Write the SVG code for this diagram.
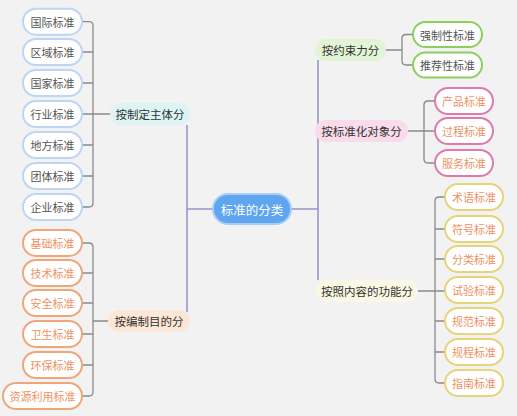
<svg xmlns="http://www.w3.org/2000/svg" width="517" height="416" viewBox="0 0 517 416">
<style>
text{font-family:"Noto Sans CJK SC","Noto Sans",sans-serif;dominant-baseline:central;text-anchor:middle}
.c{font-size:11px;fill:#555}
.o{font-size:11px;fill:#ee9263}
.b{font-size:11.5px;fill:#333}
.br{fill:none;stroke:#8a8a8a;stroke-width:1.3}
.tr{fill:none;stroke:#9896c6;stroke-width:1.6}
.nb{fill:#fff;stroke:#bcd6f3;stroke-width:2}
.no{fill:#fff;stroke:#efa77a;stroke-width:2}
.ng{fill:#fff;stroke:#8ccf5c;stroke-width:2}
.np{fill:#fff;stroke:#e07aab;stroke-width:2}
.ny{fill:#fff;stroke:#e6d47a;stroke-width:2}
</style>
<rect width="517" height="416" fill="#f2f2f2"/>
<g id="connectors">
<path class="tr" d="M187,125 V312 M187,209 H213 M291,209 H318 M318,60 V280"/>
<path class="br" d="M110,114 H93 M82,21.7 H89 Q93,21.7 93,25.7 V203 Q93,207 89,207 H82 M82,52 H93 M82,83 H93 M82,114 H93 M82,145 H93 M82,176 H93"/>
<path class="br" d="M108,321 H93 M82,243 H89 Q93,243 93,247 V392 Q93,396 89,396 H82 M82,273 H93 M82,303 H93 M82,334 H93 M82,365 H93"/>
<path class="br" d="M386,50 H402 M413,34.5 H406 Q402,34.5 402,38.5 V61 Q402,65 406,65 H413"/>
<path class="br" d="M408,131 H435 M435,101 H428 Q424,101 424,105 V159 Q424,163 428,163 H435"/>
<path class="br" d="M418,291 H445 M445,197 H439 Q435,197 435,201 V379 Q435,383 439,383 H445 M435,229 H445 M435,259 H445 M435,321 H445 M435,352 H445"/>
</g>
<g id="root"><rect x="213" y="194" width="78" height="30" rx="15" fill="#5ea6f0" stroke="#a9cdf5" stroke-width="2"/><text x="252" y="209" style="font-size:12.5px;fill:#fff">标准的分类</text></g>
<g id="b1"><rect x="110" y="103" width="80" height="22" rx="11" fill="#dcf4f4"/><text class="b" x="150" y="114">按制定主体分</text></g>
<g id="b2"><rect x="108" y="310" width="82" height="22" rx="11" fill="#fce6d6"/><text class="b" x="149" y="321">按编制目的分</text></g>
<g id="b3"><rect x="315" y="39" width="71" height="22" rx="11" fill="#e2f4d6"/><text class="b" x="350.5" y="50">按约束力分</text></g>
<g id="b4"><rect x="315" y="120" width="93" height="22" rx="11" fill="#f9dbe9"/><text class="b" x="361.5" y="131">按标准化对象分</text></g>
<g id="b5"><rect x="316" y="280" width="102" height="22" rx="11" fill="#f8f8e4"/><text class="b" x="367" y="291">按照内容的功能分</text></g>
<g id="l1"><rect class="nb" x="23" y="8.7" width="59" height="26" rx="13"/><text class="c" x="52.5" y="21.7">国际标准</text></g>
<g id="l2"><rect class="nb" x="23" y="39" width="59" height="26" rx="13"/><text class="c" x="52.5" y="52">区域标准</text></g>
<g id="l3"><rect class="nb" x="23" y="70" width="59" height="26" rx="13"/><text class="c" x="52.5" y="83">国家标准</text></g>
<g id="l4"><rect class="nb" x="23" y="101" width="59" height="26" rx="13"/><text class="c" x="52.5" y="114">行业标准</text></g>
<g id="l5"><rect class="nb" x="23" y="132" width="59" height="26" rx="13"/><text class="c" x="52.5" y="145">地方标准</text></g>
<g id="l6"><rect class="nb" x="23" y="163" width="59" height="26" rx="13"/><text class="c" x="52.5" y="176">团体标准</text></g>
<g id="l7"><rect class="nb" x="23" y="194" width="59" height="26" rx="13"/><text class="c" x="52.5" y="207">企业标准</text></g>
<g id="m1"><rect class="no" x="23" y="230" width="59" height="26" rx="13"/><text class="o" x="52.5" y="243">基础标准</text></g>
<g id="m2"><rect class="no" x="23" y="260" width="59" height="26" rx="13"/><text class="o" x="52.5" y="273">技术标准</text></g>
<g id="m3"><rect class="no" x="23" y="290" width="59" height="26" rx="13"/><text class="o" x="52.5" y="303">安全标准</text></g>
<g id="m4"><rect class="no" x="23" y="321" width="59" height="26" rx="13"/><text class="o" x="52.5" y="334">卫生标准</text></g>
<g id="m5"><rect class="no" x="23" y="352" width="59" height="26" rx="13"/><text class="o" x="52.5" y="365">环保标准</text></g>
<g id="m6"><rect class="no" x="3" y="383" width="79" height="26" rx="13"/><text class="o" x="42.5" y="396">资源利用标准</text></g>
<g id="r1"><rect class="ng" x="413" y="22" width="69" height="25" rx="12.5"/><text class="c" x="447.5" y="34.5">强制性标准</text></g>
<g id="r2"><rect class="ng" x="413" y="52.5" width="69" height="25" rx="12.5"/><text class="c" x="447.5" y="65">推荐性标准</text></g>
<g id="p1"><rect class="np" x="435" y="88" width="58" height="26" rx="13"/><text class="o" x="464" y="101">产品标准</text></g>
<g id="p2"><rect class="np" x="435" y="118" width="58" height="26" rx="13"/><text class="o" x="464" y="131">过程标准</text></g>
<g id="p3"><rect class="np" x="435" y="150" width="58" height="26" rx="13"/><text class="o" x="464" y="163">服务标准</text></g>
<g id="y1"><rect class="ny" x="445" y="184" width="58" height="26" rx="13"/><text class="o" x="474" y="197">术语标准</text></g>
<g id="y2"><rect class="ny" x="445" y="216" width="58" height="26" rx="13"/><text class="o" x="474" y="229">符号标准</text></g>
<g id="y3"><rect class="ny" x="445" y="246" width="58" height="26" rx="13"/><text class="o" x="474" y="259">分类标准</text></g>
<g id="y4"><rect class="ny" x="445" y="277" width="58" height="26" rx="13"/><text class="o" x="474" y="290">试验标准</text></g>
<g id="y5"><rect class="ny" x="445" y="308" width="58" height="26" rx="13"/><text class="o" x="474" y="321">规范标准</text></g>
<g id="y6"><rect class="ny" x="445" y="339" width="58" height="26" rx="13"/><text class="o" x="474" y="352">规程标准</text></g>
<g id="y7"><rect class="ny" x="445" y="370" width="58" height="26" rx="13"/><text class="o" x="474" y="383">指南标准</text></g>
</svg>
